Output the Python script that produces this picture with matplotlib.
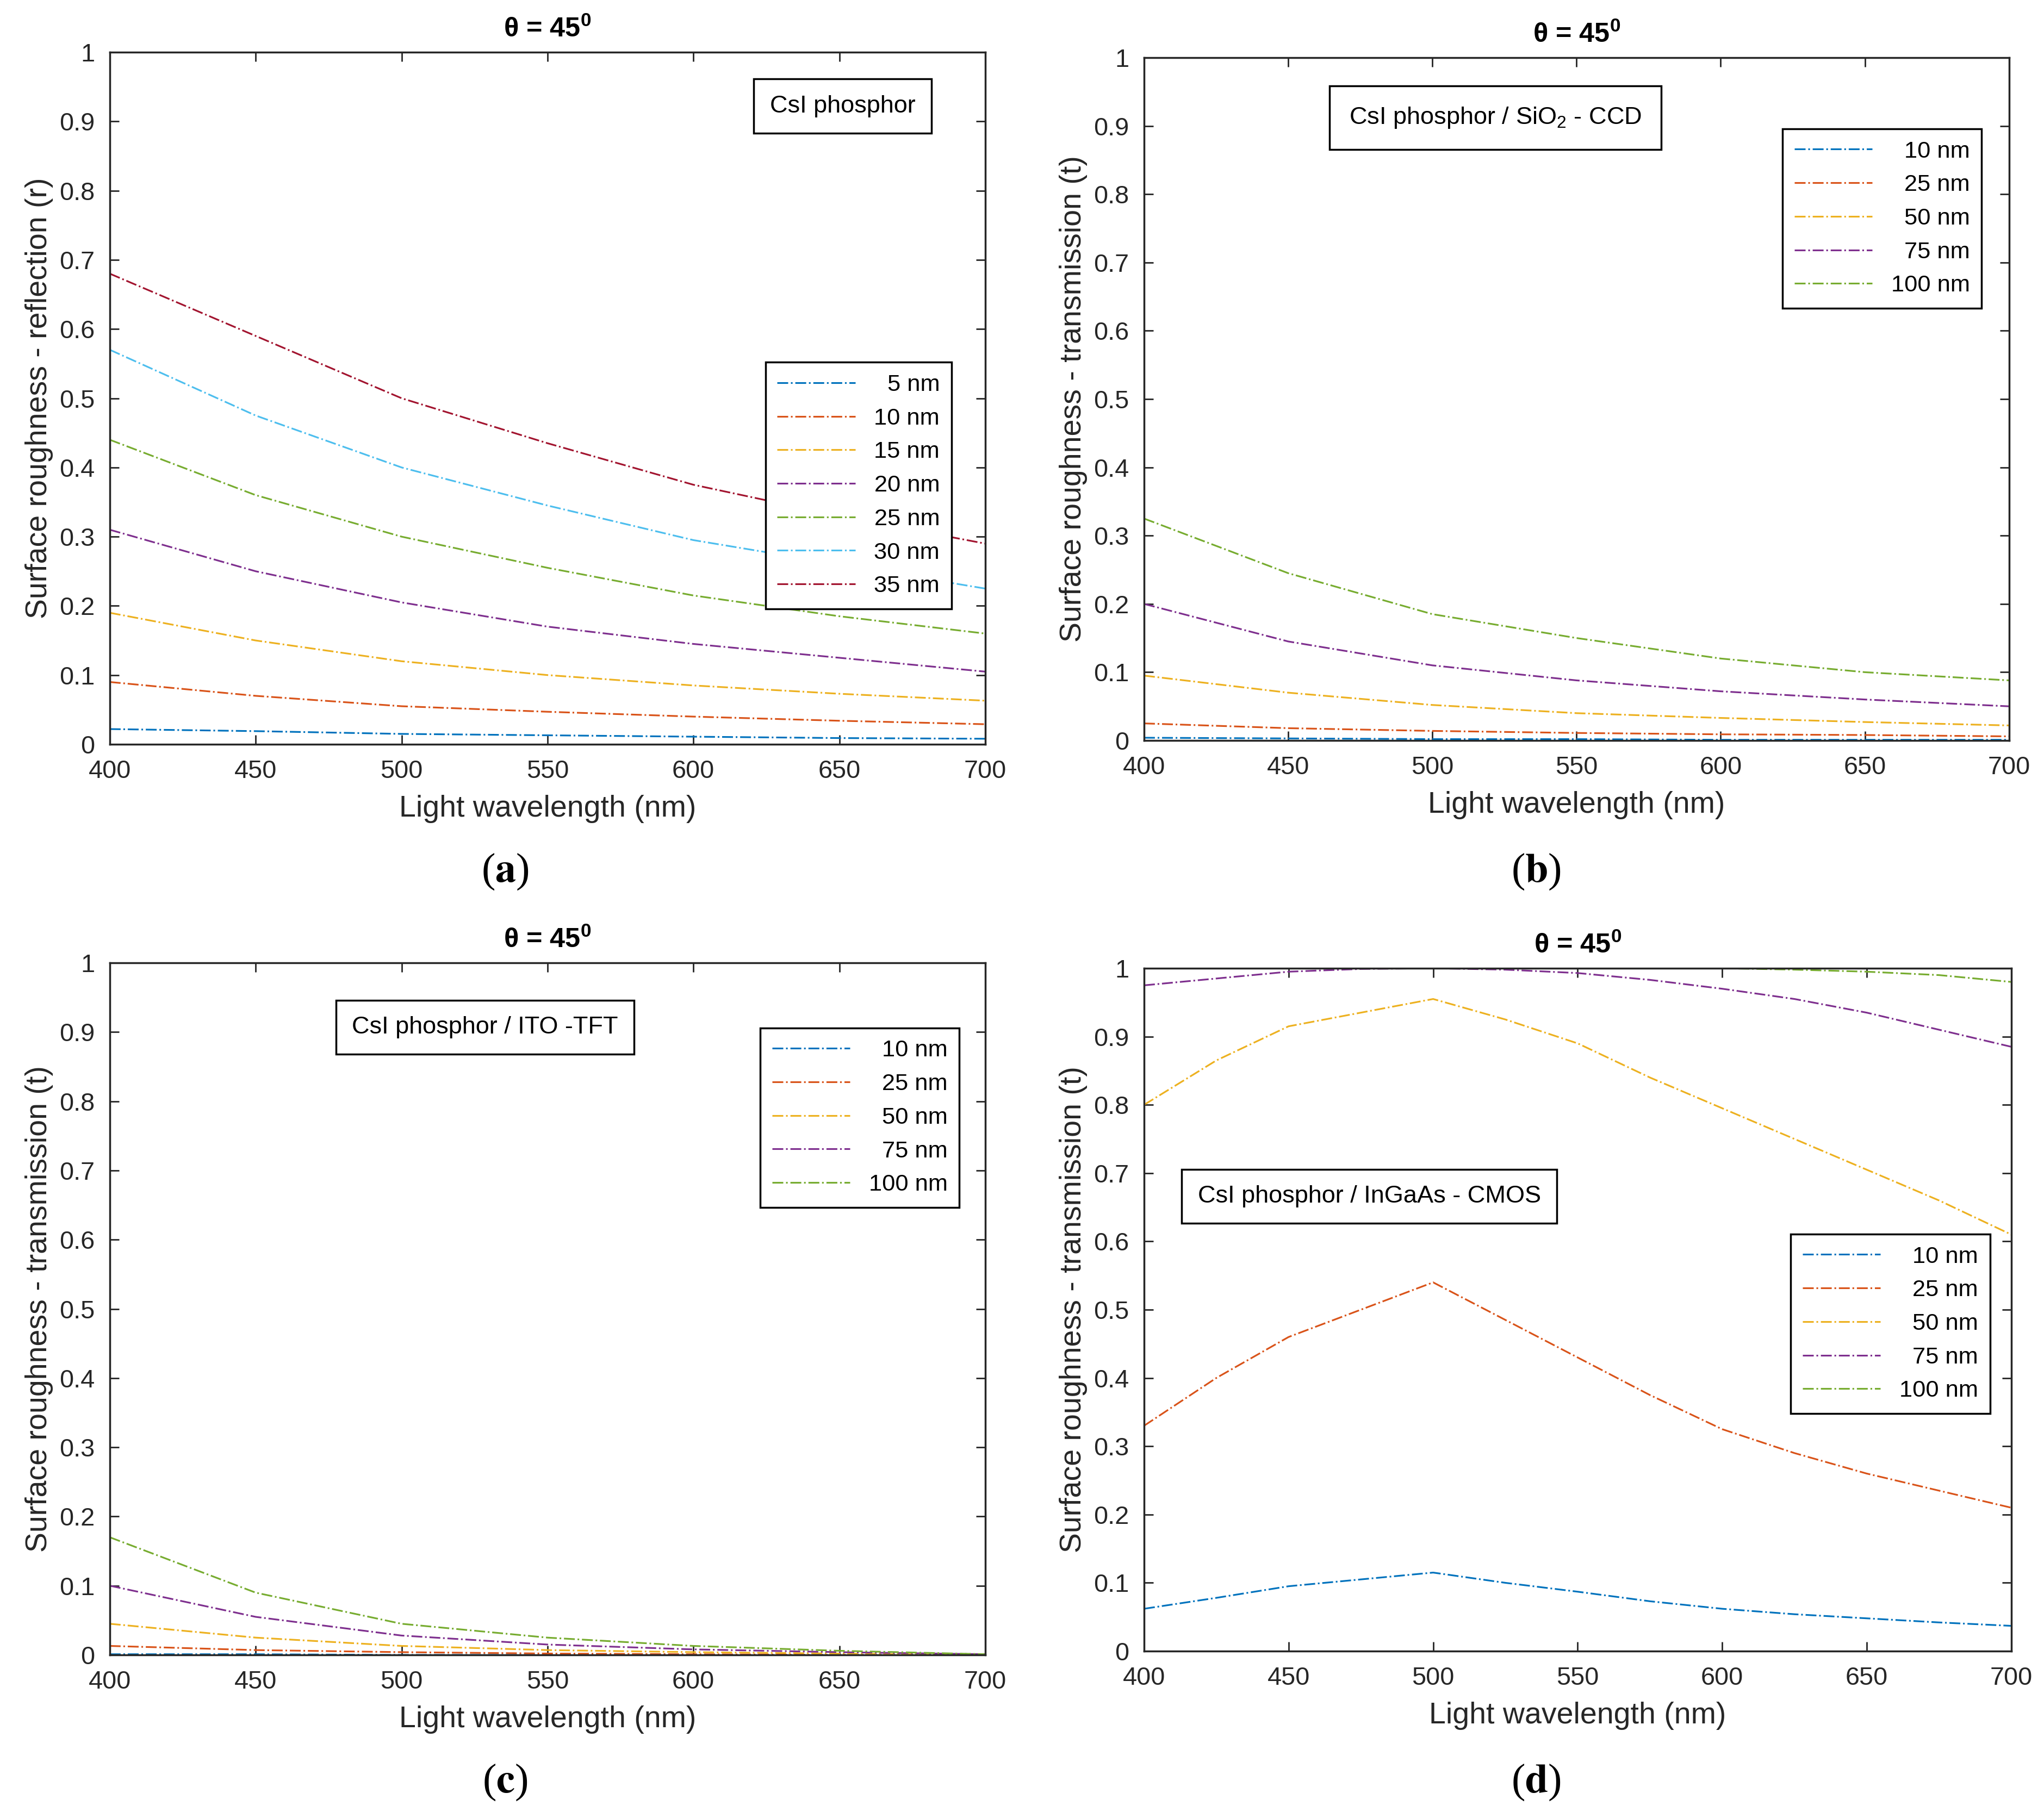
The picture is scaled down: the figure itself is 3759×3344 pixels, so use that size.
import matplotlib
matplotlib.use('Agg')
import matplotlib.pyplot as plt
from matplotlib.ticker import FormatStrFormatter, MultipleLocator

plt.rcParams['font.family'] = ['Liberation Sans', 'DejaVu Sans']
plt.rcParams['mathtext.fontset'] = 'custom'
plt.rcParams['mathtext.rm'] = 'Liberation Sans'
plt.rcParams['mathtext.bf'] = 'Liberation Sans:bold'

# colores estilo MATLAB
cores = ['#0072BD', '#D95319', '#EDB120', '#7E2F8E', '#77AC30', '#4DBEEE', '#A2142F']

# ---------------- dados ----------------
comprimento = [400, 450, 500, 550, 600, 650, 700]
comprimento_d = [400, 425, 450, 475, 500, 525, 550, 575, 600, 625, 650, 675, 700]

# (a) reflexao CsI
rugosidade_a = ['5 nm', '10 nm', '15 nm', '20 nm', '25 nm', '30 nm', '35 nm']
refl_5 = [0.022, 0.019, 0.015, 0.013, 0.011, 0.009, 0.008]
refl_10 = [0.090, 0.070, 0.055, 0.047, 0.040, 0.034, 0.029]
refl_15 = [0.190, 0.150, 0.120, 0.100, 0.085, 0.073, 0.063]
refl_20 = [0.310, 0.250, 0.205, 0.170, 0.145, 0.125, 0.105]
refl_25 = [0.440, 0.360, 0.300, 0.255, 0.215, 0.185, 0.160]
refl_30 = [0.570, 0.475, 0.400, 0.345, 0.295, 0.260, 0.225]
refl_35 = [0.680, 0.590, 0.500, 0.435, 0.375, 0.330, 0.290]

# (b) transmissao SiO2 - CCD
rugosidade_t = ['10 nm', '25 nm', '50 nm', '75 nm', '100 nm']
ccd_10 = [0.004, 0.003, 0.002, 0.002, 0.001, 0.001, 0.001]
ccd_25 = [0.025, 0.018, 0.014, 0.011, 0.009, 0.008, 0.006]
ccd_50 = [0.095, 0.070, 0.052, 0.040, 0.033, 0.027, 0.022]
ccd_75 = [0.200, 0.145, 0.110, 0.088, 0.072, 0.060, 0.050]
ccd_100 = [0.325, 0.245, 0.185, 0.150, 0.120, 0.100, 0.088]

# (c) transmissao ITO - TFT
tft_10 = [0.001, 0.001, 0.000, 0.000, 0.000, 0.000, 0.000]
tft_25 = [0.013, 0.007, 0.004, 0.002, 0.001, 0.000, 0.000]
tft_50 = [0.045, 0.025, 0.013, 0.007, 0.004, 0.002, 0.000]
tft_75 = [0.100, 0.055, 0.028, 0.015, 0.008, 0.004, 0.001]
tft_100 = [0.170, 0.090, 0.045, 0.025, 0.013, 0.006, 0.001]

# (d) transmissao InGaAs - CMOS
cmos_10 = [0.062, 0.078, 0.095, 0.105, 0.115, 0.100, 0.087, 0.073, 0.062, 0.054, 0.048, 0.042, 0.037]
cmos_25 = [0.330, 0.400, 0.460, 0.500, 0.540, 0.485, 0.430, 0.375, 0.325, 0.290, 0.260, 0.235, 0.210]
cmos_50 = [0.800, 0.865, 0.915, 0.935, 0.955, 0.925, 0.890, 0.840, 0.795, 0.750, 0.705, 0.660, 0.610]
cmos_75 = [0.975, 0.985, 0.995, 0.999, 1.000, 0.998, 0.993, 0.983, 0.970, 0.955, 0.935, 0.910, 0.885]
cmos_100 = [1.000, 1.000, 1.000, 1.000, 1.000, 1.000, 1.000, 1.000, 1.000, 0.998, 0.995, 0.990, 0.980]

titulo = r'θ = 45$^{\mathbf{0}}$'
rotulo_x = 'Light wavelength (nm)'

fig = plt.figure(figsize=(15.036, 13.376), dpi=250)


def desenha_painel(pos, x, series, nomes, ylabel, caixa_txt, caixa_xy, caixa_pad, leg_xy, letra, letra_xy):
    ax = fig.add_axes(pos)
    for i, s in enumerate(series):
        ax.plot(x, s, linestyle='-.', color=cores[i], lw=0.9, label=nomes[i])
    ax.set_xlim(400, 700)
    ax.set_ylim(0, 1)
    ax.xaxis.set_major_locator(MultipleLocator(50))
    ax.yaxis.set_major_locator(MultipleLocator(0.1))
    ax.yaxis.set_major_formatter(FormatStrFormatter('%g'))
    ax.tick_params(direction='in', length=5, width=0.8, top=True, right=True,
                   labelsize=13.5, colors='#262626', pad=8)
    for sp in ax.spines.values():
        sp.set_color('#262626')
        sp.set_linewidth(1.0)
    ax.set_title(titulo, fontsize=14.5, fontweight='bold', pad=8)
    ax.set_xlabel(rotulo_x, fontsize=16, color='#262626', labelpad=6)
    ax.set_ylabel(ylabel, fontsize=16, color='#262626', labelpad=3)
    ax.text(caixa_xy[0], caixa_xy[1], caixa_txt, transform=ax.transAxes, fontsize=13,
            ha='center', va='center',
            bbox=dict(boxstyle='square,pad=%g' % caixa_pad, fc='white', ec='black', lw=1.0))
    leg = ax.legend(loc='upper right', bbox_to_anchor=leg_xy, fontsize=12.5,
                    handlelength=3.3, labelspacing=0.5, borderpad=0.5,
                    fancybox=False, framealpha=1, edgecolor='black')
    leg.get_frame().set_linewidth(1.0)
    # texto da legenda alinhado a direita, como no MATLAB
    fig.canvas.draw()
    rend = fig.canvas.get_renderer()
    larguras = [t.get_window_extent(rend).width for t in leg.get_texts()]
    larg = max(larguras)
    for t, w in zip(leg.get_texts(), larguras):
        t.set_position((larg - w, 0))
    fig.text(letra_xy[0], letra_xy[1], letra, fontsize=22, ha='center', va='center',
             family=['Liberation Serif', 'DejaVu Serif'], math_fontfamily='stix')
    return ax


desenha_painel([0.0537, 0.5906, 0.4283, 0.3807], comprimento,
               [refl_5, refl_10, refl_15, refl_20, refl_25, refl_30, refl_35], rugosidade_a,
               'Surface roughness - reflection (r)', 'CsI phosphor', (0.837, 0.922), 0.65,
               (0.975, 0.569), r'($\mathbf{a}$)', (0.247, 0.5206))

desenha_painel([0.5597, 0.5927, 0.4232, 0.3756], comprimento,
               [ccd_10, ccd_25, ccd_50, ccd_75, ccd_100], rugosidade_t,
               'Surface roughness - transmission (t)', 'CsI phosphor / SiO$_2$ - CCD', (0.406, 0.912), 0.8,
               (0.982, 0.913), r'($\mathbf{b}$)', (0.7515, 0.5206))

desenha_painel([0.0537, 0.0897, 0.4283, 0.3807], comprimento,
               [tft_10, tft_25, tft_50, tft_75, tft_100], rugosidade_t,
               'Surface roughness - transmission (t)', 'CsI phosphor / ITO -TFT', (0.4286, 0.907), 0.65,
               (0.984, 0.923), r'($\mathbf{c}$)', (0.247, 0.0197))

desenha_painel([0.5597, 0.0918, 0.4243, 0.3756], comprimento_d,
               [cmos_10, cmos_25, cmos_50, cmos_75, cmos_100], rugosidade_t,
               'Surface roughness - transmission (t)', 'CsI phosphor / InGaAs - CMOS', (0.2597, 0.666), 0.65,
               (0.989, 0.628), r'($\mathbf{d}$)', (0.7515, 0.0197))

fig.savefig('out.png', dpi=250)
